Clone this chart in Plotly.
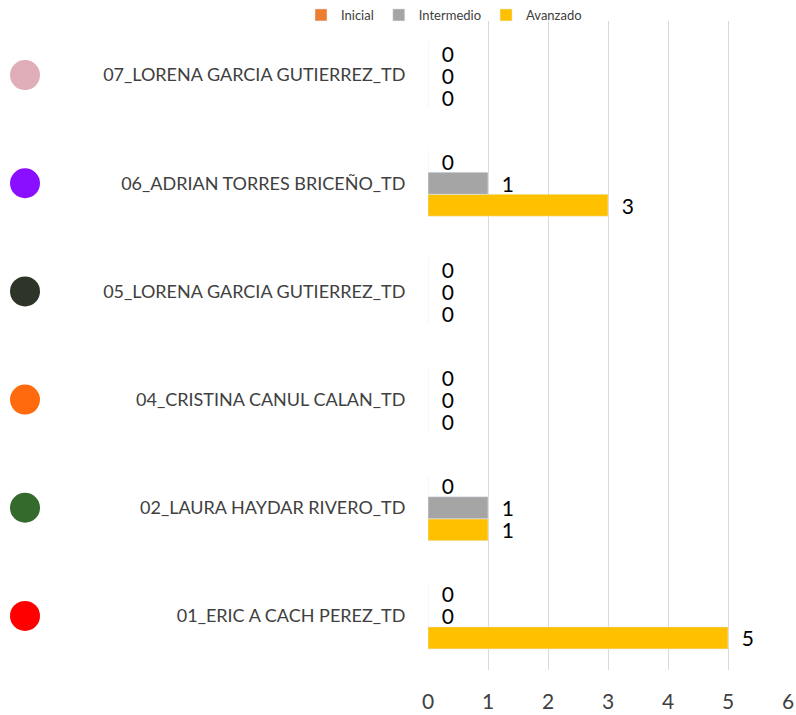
import plotly.graph_objects as go

categories = ["01_ERIC A CACH PEREZ_TD", "02_LAURA HAYDAR RIVERO_TD", "04_CRISTINA CANUL CALAN_TD",
              "05_LORENA GARCIA GUTIERREZ_TD", "06_ADRIAN TORRES BRICEÑO_TD", "07_LORENA GARCIA GUTIERREZ_TD"]
inicial = [0, 0, 0, 0, 0, 0]
intermedio = [0, 1, 0, 0, 1, 0]
avanzado = [5, 1, 0, 0, 3, 0]
dot_colors = ["#FF0000", "#346B2D", "#FF6A0E", "#2F3429", "#8A0EFF", "#E0AEB8"]

FONT = "Lato"
W, H = 796, 715
L_PLOT = 428  # left edge of bar plot area in px
T, B = 21, 45
fig = go.Figure()
series = [("Avanzado", avanzado, "#FFC000"), ("Intermedio", intermedio, "#A5A5A5"), ("Inicial", inicial, "#ED7D31")]
for name, vals, col in series:
    fig.add_trace(go.Bar(
        name=name, y=categories, x=vals, orientation="h", marker_color=col,
        text=vals, texttemplate="\u00a0\u00a0%{x}", textposition="outside",
        textfont=dict(size=21, color="#000000", family=FONT), constraintext="none",
        cliponaxis=False,
    ))

fig.add_trace(go.Scatter(
    x=[0.5] * len(categories), y=categories, mode="markers", xaxis="x2", yaxis="y",
    marker=dict(size=30, color=dot_colors), showlegend=False, hoverinfo="skip",
))

plot_w = W - 0 - 8
plot_h = H - T - B
fig.update_layout(
    width=W, height=H,
    margin=dict(l=0, r=8, t=T, b=B),
    barmode="group", bargap=0.39, bargroupgap=0,
    plot_bgcolor="white", paper_bgcolor="white",
    font=dict(family=FONT, color="#404040"),
    legend=dict(orientation="h", traceorder="reversed", x=444 / plot_w, xanchor="center",
                y=1 + 6 / plot_h, yanchor="middle", font=dict(size=13, color="#404040"),
                itemwidth=30, bgcolor="rgba(0,0,0,0)"),
    xaxis=dict(domain=[L_PLOT / plot_w, 1], range=[0, 6], dtick=1, showgrid=True,
               gridcolor="#D9D9D9", gridwidth=1,
               zeroline=False, showline=False, ticks="outside", ticklen=13, tickcolor="rgba(0,0,0,0)",
               tickfont=dict(size=21, color="#404040", family=FONT), automargin=False),
    yaxis=dict(showgrid=False, zeroline=False, showline=False, ticks="outside", ticklen=18,
               tickcolor="rgba(0,0,0,0)", tickfont=dict(size=18, color="#404040", family=FONT),
               automargin=False),
    xaxis2=dict(domain=[0, 50 / plot_w], range=[0, 1], anchor="y", visible=False, fixedrange=True),
)

fig.write_html("out.html", config={"displayModeBar": False},
               post_script="document.body.style.margin='0';")
